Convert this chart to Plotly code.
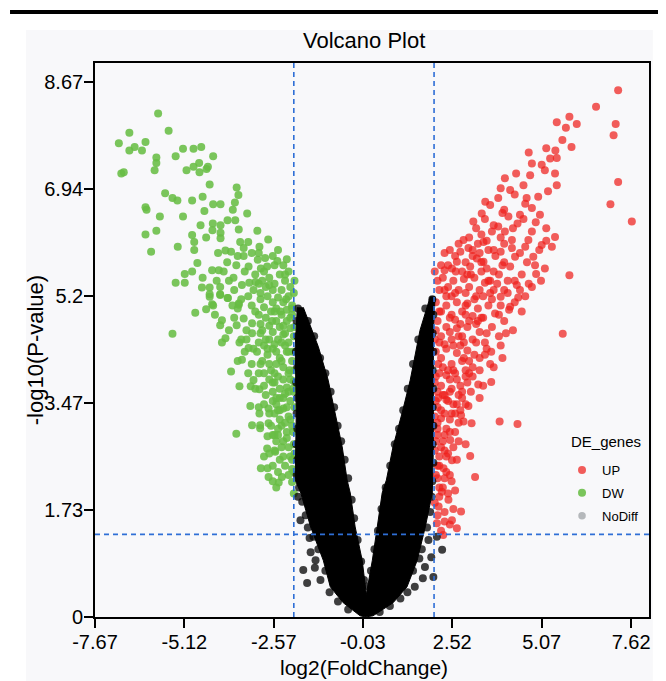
import plotly.graph_objects as go

# ---------------- data ----------------
x_tickvals = [-7.67, -5.12, -2.57, -0.03, 2.52, 5.07, 7.62]
x_ticktext = ["-7.67", "-5.12", "-2.57", "-0.03", "2.52", "5.07", "7.62"]
y_tickvals = [0, 1.73, 3.47, 5.2, 6.94, 8.67]
y_ticktext = ["0", "1.73", "3.47", "5.2", "6.94", "8.67"]

fc_cutoffs = [-2.0, 2.0]
p_cutoff = 1.34

# DW (down-regulated) genes
dw_x = [
    -5.87, -5.57, -6.69, -6.99, -6.23, -6.54, -6.69, -6.33, -5.92, -5.92, -5.97, -6.92, -6.85,
    -5.37, -5.16, -4.86, -4.64, -4.30, -4.86, -4.70, -5.06, -4.69, -4.49, -4.45, -4.40, -5.67,
    -5.46, -5.32, -4.90, -4.60, -4.30, -4.09, -3.63, -3.58, -3.68, -3.74, -3.33, -6.23, -6.20,
    -5.82, -5.16, -4.55, -4.31, -4.09, -4.66, -3.89, -3.67, -3.57, -3.04, -6.23, -5.92, -6.07,
    -5.31, -4.90, -4.84, -4.84, -4.75, -4.50, -4.09, -4.09, -4.32, -4.16, -3.95, -3.79, -3.53,
    -3.30, -3.43, -3.43, -2.98, -2.73, -3.64, -3.29, -3.03, -2.82, -2.94, -2.76, -2.47, -4.33,
    -4.14, -4.00, -5.11, -4.90, -5.37, -5.11, -4.62, -4.40, -4.10, -4.10, -3.88, -3.72, -3.48,
    -3.27, -3.09, -3.57, -4.33, -4.40,
    -5.46, -4.81, -4.50, -4.30, -4.40, -4.10, -3.89, -4.05, -4.10, -3.63, -3.55, -3.95, -4.05,
    -3.57, -3.60, -3.43, -3.19, -3.19, -3.29, -3.48, -3.79, -3.55, -3.23, -2.98, -3.15, -3.24,
    -3.00, -2.72, -2.98, -3.64, -3.19, -2.96, -2.96, -2.72, -2.75, -2.76, -2.53, -2.94, -2.75,
    -2.72, -2.43, -2.34, -2.05,
    -2.90, -2.70, -2.55, -2.40, -2.25, -2.10, -2.60, -2.35, -2.00, -2.80,
    -2.95, -2.75, -2.60, -2.45, -2.30, -2.15, -2.05, -2.50, -2.85, -2.20,
    -3.00, -2.80, -2.65, -2.50, -2.35, -2.20, -2.05, -2.70, -2.40, -2.10,
    -2.95, -2.80, -2.60, -2.45, -2.30, -2.15, -2.00, -2.55, -2.25, -2.85,
    -3.05, -2.75, -2.60, -2.40, -2.20, -2.05, -2.50, -2.30, -2.90, -2.12,
    -2.85, -2.65, -2.45, -2.30, -2.15, -2.00, -2.55, -2.70, -2.20,
    -2.80, -2.60, -2.40, -2.25, -2.10, -2.00, -2.50,
    -2.55, -2.40, -2.30, -2.15, -2.05, -2.45, -2.20,
    -2.50, -2.35, -2.20, -2.10, -2.00, -2.40, -2.25, -2.60,
    -2.15, -2.60, -2.50, -2.05, -2.00,
    -2.60, -2.30, -2.15, -3.20, -3.60, -3.90, -2.45, -3.10,
    -3.30, -3.15, -2.95, -3.70, -3.85, -3.20, -2.70, -2.25, -4.20, -4.60,
    -3.10, -2.95, -3.35, -3.70, -3.85, -2.55, -2.30, -2.10, -4.25,
    -3.15, -3.00, -2.70, -3.40, -3.60, -2.35, -2.15, -2.70,
    -3.00, -3.30, -2.55, -2.40, -2.85, -2.10, -2.30,
    -2.85, -2.60, -2.45, -2.20, -2.10, -2.65, -2.35, -2.50,
    -2.45, -2.30, -2.55, -2.15, -2.05, -2.85, -2.60,
    -1.98, -2.05, -1.98, -2.02, -1.98, -2.02, -1.98, -2.02, -1.98, -2.00,
    -2.22, -2.38, -2.62, -2.90, -2.25, -2.50, -2.75, -2.95, -2.35, -2.60,
    -2.15, -2.40, -2.70, -2.25, -2.55, -2.30, -2.70, -2.45, -3.35, -3.20,
    -3.10, -3.50, -3.00, -2.85, -3.40, -3.50, -3.75, -2.55, -2.20, -3.00,
]
dw_y = [
    8.16, 7.88, 7.85, 7.68, 7.70, 7.62, 7.56, 7.56, 7.45, 7.36, 7.24, 7.19, 7.21,
    7.47, 7.59, 7.59, 7.62, 7.47, 7.30, 7.36, 7.24, 7.21, 7.26, 7.30, 7.01, 6.87,
    6.79, 6.75, 6.75, 6.81, 6.69, 6.69, 6.96, 6.84, 6.72, 6.60, 6.54, 6.64, 6.60,
    6.49, 6.49, 6.58, 6.38, 6.35, 6.35, 6.43, 6.43, 6.28, 6.26, 6.20, 6.26, 5.92,
    6.00, 6.19, 6.08, 5.95, 5.74, 6.15, 6.23, 6.14, 6.27, 5.90, 5.94, 5.92, 6.08,
    6.08, 5.98, 5.85, 6.00, 6.12, 5.70, 5.68, 5.79, 5.82, 5.65, 5.68, 5.77, 5.62,
    5.62, 5.60, 5.56, 5.60, 5.42, 5.42, 5.34, 5.34, 5.35, 5.23, 5.17, 5.50, 5.38,
    5.42, 5.43, 5.08, 5.07, 5.23,
    4.59, 4.93, 4.99, 5.05, 5.19, 5.22, 5.17, 4.81, 4.73, 4.73, 4.45, 4.52, 4.45,
    5.06, 5.00, 4.84, 4.76, 4.60, 4.36, 4.17, 3.98, 3.74, 3.74, 3.69, 3.84, 3.42,
    3.40, 3.38, 3.30, 2.97, 3.11, 3.11, 3.06, 3.14, 2.93, 2.73, 2.68, 2.41, 2.41,
    2.27, 2.18, 2.27, 2.19,
    5.45, 5.50, 5.40, 5.55, 5.45, 5.35, 5.30, 5.30, 5.25, 5.35,
    5.15, 5.20, 5.10, 5.18, 5.10, 5.20, 5.05, 5.00, 5.02, 4.98,
    4.90, 4.85, 4.95, 4.80, 4.90, 4.80, 4.90, 4.72, 4.70, 4.68,
    4.60, 4.50, 4.62, 4.50, 4.58, 4.45, 4.55, 4.42, 4.40, 4.40,
    4.30, 4.25, 4.35, 4.20, 4.30, 4.15, 4.10, 4.05, 4.15, 4.00,
    3.95, 4.00, 3.90, 3.85, 3.95, 3.82, 3.80, 3.85, 3.72,
    3.60, 3.65, 3.55, 3.62, 3.50, 3.65, 3.45,
    3.30, 3.20, 3.38, 3.25, 3.10, 3.05, 3.00,
    2.85, 2.75, 2.90, 2.60, 2.80, 2.55, 2.45, 2.95,
    2.30, 2.20, 2.10, 2.40, 2.00,
    5.85, 5.70, 5.60, 5.90, 5.85, 5.75, 5.95, 5.55,
    5.20, 5.30, 5.25, 5.30, 5.45, 5.05, 5.38, 5.55, 5.45, 5.50,
    4.95, 4.75, 4.65, 4.85, 4.65, 4.95, 4.72, 4.85, 4.90,
    4.35, 4.45, 4.50, 4.30, 4.15, 4.45, 4.30, 4.10,
    3.95, 3.95, 3.95, 3.70, 3.75, 3.85, 3.55,
    3.45, 3.50, 3.35, 3.40, 3.20, 3.10, 3.10, 3.55,
    2.95, 2.60, 2.70, 2.75, 2.55, 2.60, 2.45,
    5.45, 5.00, 4.70, 4.30, 4.00, 3.70, 3.40, 3.00, 2.65, 2.35,
    5.15, 4.95, 4.80, 4.65, 4.60, 4.30, 4.35, 4.10, 4.15, 3.80,
    3.65, 3.35, 3.30, 3.15, 2.95, 2.85, 2.65, 2.35, 4.50, 4.10,
    3.70, 4.50, 5.40, 5.60, 5.60, 5.15, 5.05, 5.70, 5.80, 5.90,
]

# UP (up-regulated) genes
up_x = [
    7.25, 6.62, 5.86, 5.76, 5.50, 6.07, 7.18, 7.12, 5.66, 5.92, 7.25, 7.03, 7.64, 5.20, 5.46,
    4.70, 4.79, 5.07, 5.31, 5.50, 5.16, 5.45, 4.74, 4.34, 4.02, 4.17, 3.83, 3.46, 3.60, 4.64,
    4.97, 4.79, 5.02, 4.45, 4.38, 4.12, 3.36, 3.12, 3.83, 4.02, 3.65, 3.41, 4.79, 5.45, 4.69,
    5.07, 5.36, 4.22, 2.84, 2.98, 3.22, 3.41, 2.65, 2.51, 3.03, 4.22, 4.31, 4.17, 4.83, 4.88,
    5.16, 4.91, 5.86, 4.79, 4.36,
    5.67, 3.87, 4.38, 3.63, 3.63, 3.26, 2.98, 2.77, 3.07, 2.84, 3.03, 3.17, 2.77, 2.51, 2.65,
    2.46, 2.51, 2.27, 2.22, 2.41, 2.13, 2.08, 2.26, 4.40, 4.17, 4.14, 3.90, 3.74,
    2.30, 2.45, 2.60, 2.75, 3.10, 3.30, 3.55, 3.75, 3.90, 2.20, 2.80, 3.50, 3.70, 3.95,
    2.10, 2.25, 2.40, 2.55, 2.70, 2.85, 3.00, 3.15, 3.30, 3.45, 3.60, 3.80, 4.00, 3.20, 2.35,
    2.05, 2.20, 2.35, 2.50, 2.65, 2.80, 2.95, 3.10, 3.25, 3.40, 3.55, 2.10, 2.60, 3.00,
    2.05, 2.20, 2.35, 2.50, 2.65, 2.80, 2.95, 3.10, 3.30, 3.45, 2.30, 2.75, 3.20,
    2.05, 2.20, 2.35, 2.50, 2.65, 2.80, 2.95, 3.10, 3.30, 2.40, 2.90, 3.50,
    2.05, 2.20, 2.35, 2.50, 2.65, 2.80, 2.95, 3.10, 2.30, 2.70,
    2.05, 2.20, 2.35, 2.50, 2.65, 2.20, 2.45, 2.80,
    2.10, 2.30, 2.20, 2.40, 2.15, 2.60, 2.05,
    2.10, 2.30, 2.15, 2.05, 2.50,
    3.90, 4.30, 4.55, 4.00, 4.60, 5.25, 5.50,
    3.20, 3.45, 3.70, 3.95, 4.25, 4.55, 4.90, 5.20, 3.35, 3.90,
    2.70, 3.00, 3.25, 3.50, 3.70, 4.00, 4.45, 4.60, 5.00, 5.20, 3.10,
    2.40, 2.95, 3.35, 3.60, 3.85, 4.10, 4.50, 4.65, 5.05, 4.00,
    3.65, 3.90, 4.10, 4.30, 4.60, 4.50, 3.40, 2.90, 2.50,
    3.65, 3.85, 4.00, 4.25, 3.35, 2.45, 2.90, 2.15, 2.75,
    3.20, 3.45, 3.70, 3.90, 3.00, 2.15, 2.55, 2.85, 2.25,
    2.15, 2.45, 2.60, 2.90, 3.05, 3.30, 2.10, 2.40, 2.75,
    2.10, 2.30, 2.55, 2.70, 2.35, 2.60, 2.10,
    2.10, 2.25, 2.35, 2.55, 2.70, 2.15, 2.30,
    2.10, 2.25, 2.35, 2.60, 2.15, 2.45,
    2.10, 2.30, 2.45, 2.20, 2.55,
    2.02, 2.15, 2.30, 2.62, 2.90, 3.05, 3.35, 2.02, 2.12, 2.02, 2.12, 2.02, 2.25, 2.45,
    2.55, 2.70, 2.85, 3.00, 3.15, 3.25, 2.45, 2.30, 2.60, 2.90, 3.15, 3.50, 3.30, 3.40,
    2.90, 2.75, 2.45, 2.65, 2.90, 2.02, 2.40, 2.02, 2.30, 3.55, 3.70, 3.85, 4.05, 4.30,
    4.45, 4.70, 3.60, 3.95,
]
up_y = [
    8.54, 8.27, 8.11, 7.93, 8.02, 7.99, 7.99, 7.81, 7.73, 7.62, 7.05, 6.69, 6.41, 7.60, 7.56,
    7.53, 7.35, 7.33, 7.43, 7.44, 7.24, 7.19, 7.16, 7.19, 7.11, 6.92, 6.79, 6.73, 6.68, 6.79,
    6.81, 6.63, 6.52, 6.52, 6.38, 6.49, 6.54, 6.41, 6.33, 6.25, 6.25, 6.08, 6.25, 6.16, 6.11,
    6.03, 6.00, 6.11, 6.11, 5.98, 5.81, 5.76, 5.76, 5.65, 5.68, 5.98, 5.84, 5.68, 5.84, 5.70,
    5.65, 5.56, 5.54, 5.35, 5.38,
    4.59, 3.17, 3.13, 4.30, 3.81, 3.77, 3.42, 3.27, 3.14, 3.17, 2.61, 2.27, 1.71, 1.57, 1.44,
    2.87, 2.54, 2.41, 2.03, 1.90, 1.79, 1.52, 1.33, 5.18, 5.03, 4.98, 5.19, 4.92,
    5.90, 5.95, 5.85, 5.92, 5.95, 5.90, 5.95, 5.85, 5.92, 5.70, 5.60, 5.65, 5.60, 5.70,
    5.45, 5.50, 5.35, 5.45, 5.30, 5.48, 5.35, 5.50, 5.30, 5.42, 5.25, 5.40, 5.30, 5.20, 5.20,
    5.10, 4.95, 5.05, 4.90, 5.10, 4.95, 5.08, 4.88, 5.00, 4.85, 5.05, 4.80, 4.82, 4.80,
    4.65, 4.55, 4.70, 4.50, 4.68, 4.55, 4.70, 4.50, 4.62, 4.45, 4.42, 4.40, 4.75,
    4.30, 4.20, 4.35, 4.10, 4.28, 4.15, 4.32, 4.05, 4.20, 4.00, 4.00, 4.35,
    3.90, 3.75, 3.92, 3.70, 3.85, 3.65, 3.80, 3.90, 3.60, 3.60,
    3.50, 3.35, 3.52, 3.30, 3.45, 3.22, 3.20, 3.55,
    3.05, 2.95, 2.75, 2.65, 2.60, 3.00, 2.85,
    2.45, 2.25, 2.10, 2.30, 2.20,
    6.95, 6.85, 7.00, 6.60, 6.70, 6.90, 7.00,
    6.30, 6.45, 6.35, 6.55, 6.30, 6.45, 6.40, 6.30, 6.20, 6.15,
    6.05, 6.15, 6.05, 6.10, 5.95, 6.05, 5.90, 6.00, 5.95, 6.10, 5.85,
    5.70, 5.55, 5.60, 5.45, 5.55, 5.45, 5.55, 5.75, 5.45, 5.75,
    5.15, 5.05, 5.25, 5.10, 5.20, 4.95, 5.20, 5.25, 5.20,
    4.70, 4.55, 4.80, 4.65, 4.85, 4.62, 4.90, 4.95, 4.75,
    4.45, 4.25, 4.05, 4.40, 4.15, 4.45, 4.40, 4.45, 4.05,
    3.95, 3.85, 3.95, 3.90, 3.65, 3.55, 3.65, 3.50, 3.75,
    3.40, 3.30, 3.45, 3.15, 3.05, 3.30, 3.15,
    2.95, 2.85, 2.60, 2.75, 2.85, 2.45, 2.70,
    2.25, 2.10, 2.35, 2.05, 1.95, 2.30,
    1.65, 1.70, 1.50, 1.40, 1.75,
    5.60, 5.30, 5.62, 5.60, 5.75, 5.55, 5.75, 4.50, 4.10, 3.80, 3.55, 3.25, 3.60, 3.65,
    4.00, 4.55, 4.20, 3.95, 4.25, 4.80, 4.85, 5.30, 5.25, 5.05, 5.15, 4.60, 4.00, 3.75,
    3.45, 3.35, 3.00, 2.55, 2.80, 2.70, 2.00, 1.85, 1.55, 5.45, 5.30, 4.90, 4.60, 5.45,
    5.30, 5.40, 4.10, 4.20,
]

# NoDiff genes: outline of the densely packed (solid) core
nodiff_core_x = [
    -1.90, -1.96, -1.93, -1.96, -1.80, -1.52, -1.16, -0.96, -0.59, -0.11, 0.04,
    0.26, 0.83, 1.23, 1.52, 1.75, 1.95, 1.98, 1.98, 1.98, 2.03, 1.89,
    1.60, 1.32, 1.09, 0.83, 0.64, 0.52, 0.38, 0.24, 0.09, 0.08,
    0.07, -0.05, -0.25, -0.39, -0.48, -0.62, -0.82, -1.02, -1.30, -1.73,
]
nodiff_core_y = [
    5.02, 4.38, 3.31, 2.22, 2.01, 1.46, 0.92, 0.49, 0.23, 0.02, 0.00,
    0.02, 0.23, 0.49, 0.92, 1.46, 2.01, 2.76, 3.84, 4.65, 5.19, 5.19,
    4.65, 3.84, 3.31, 2.76, 2.22, 2.01, 1.46, 0.92, 0.44, 0.36,
    0.36, 0.92, 1.46, 2.01, 2.22, 2.76, 3.31, 3.84, 4.38, 5.02,
]
# NoDiff genes visible individually along the edges of the core
nodiff_x = [
    -1.88, -1.92, -1.90, -1.94, -1.90, -1.93, -1.90, -1.92, -1.90, -1.93, -1.90, -1.92, -1.85,
    -1.76, -1.66, -1.81, -1.55, -1.52, -1.38, -1.73, -1.24, -1.10, -0.98, -0.74, -0.45, -1.30,
    -1.44, -1.60, -1.88, -1.62, -1.40, -0.88,
    -1.60, -1.42, -1.25, -1.10, -0.95, -0.85, -0.75, -0.65, -0.55, -0.45, -0.35, -0.28, -0.18,
    -0.08, 0.00,
    1.95, 1.98, 1.96, 1.98, 1.96, 1.98, 1.96, 1.98, 1.96, 1.98, 1.95, 1.93, 1.89, 1.80, 1.84,
    1.92, 1.74, 1.98, 1.68, 2.23, 1.45, 1.24, 1.04, 0.74, 0.45, 1.65, 1.40, 2.08, 1.58,
    1.75, 1.55, 1.40, 1.25, 1.12, 1.00, 0.88, 0.75, 0.62, 0.50, 0.40, 0.30, 0.20, 0.12,
]
nodiff_y = [
    5.00, 4.80, 4.55, 4.30, 4.05, 3.80, 3.55, 3.30, 3.05, 2.80, 2.55, 2.30, 2.10,
    1.87, 1.65, 1.57, 1.28, 1.05, 0.92, 0.76, 0.60, 0.75, 0.40, 0.25, 0.12, 1.10,
    1.30, 1.45, 1.95, 0.55, 0.80, 0.55,
    4.80, 4.55, 4.20, 3.95, 3.65, 3.40, 3.10, 2.85, 2.55, 2.25, 1.90, 1.60, 1.25,
    0.90, 0.60,
    5.15, 4.90, 4.60, 4.30, 4.00, 3.70, 3.40, 3.10, 2.80, 2.50, 2.20, 1.95, 1.70, 1.45, 1.25,
    0.97, 0.81, 0.65, 0.63, 1.09, 0.49, 0.40, 0.30, 0.18, 0.08, 1.10, 0.75, 1.30, 0.95,
    5.00, 4.50, 4.10, 3.70, 3.35, 3.05, 2.80, 2.45, 2.10, 1.75, 1.40, 1.10, 0.75, 0.50,
]

x_range = [-7.67, 8.13]
y_range = [0, 8.98]

# ---------------- styling ----------------
FONT = "Liberation Sans, Arial, Helvetica, sans-serif"
RED = "rgba(238,32,28,0.72)"
GREEN = "rgba(104,189,68,0.88)"
BLACK = "rgba(0,0,0,0.75)"
MS = 8

fig = go.Figure()

fig.add_trace(go.Scatter(
    x=up_x, y=up_y, mode="markers", name="UP", legendgroup="up",
    marker=dict(color=RED, size=MS, line=dict(width=0)),
))
fig.add_trace(go.Scatter(
    x=dw_x, y=dw_y, mode="markers", name="DW", legendgroup="dw",
    marker=dict(color=GREEN, size=MS, line=dict(width=0)),
))
fig.add_trace(go.Scatter(
    x=nodiff_core_x, y=nodiff_core_y, mode="lines", fill="toself",
    fillcolor="black", line=dict(color="black", width=1),
    showlegend=False, hoverinfo="skip",
))
fig.add_trace(go.Scatter(
    x=nodiff_x, y=nodiff_y, mode="markers", name="NoDiff", legendgroup="nd",
    marker=dict(color=BLACK, size=MS, line=dict(width=0)), showlegend=False,
))
# legend swatch for NoDiff (grey in the reference legend)
fig.add_trace(go.Scatter(
    x=[None], y=[None], mode="markers", name="NoDiff", legendgroup="nd",
    marker=dict(color="#b5b8bb", size=7.5, line=dict(width=0)),
))

shapes = []
# faint panel behind the figure
shapes.append(dict(type="rect", xref="paper", yref="paper",
                   x0=-0.1245, x1=1.007, y0=-0.116, y1=1.0596,
                   fillcolor="#f8f8fa", line=dict(width=0), layer="below"))
# black rule at the top of the page
shapes.append(dict(type="rect", xref="paper", yref="paper",
                   x0=-0.1534, x1=1.031, y0=1.0884, y1=1.0957,
                   fillcolor="black", line=dict(width=0), layer="above"))
for fc in fc_cutoffs:
    shapes.append(dict(type="line", xref="x", yref="paper", x0=fc, x1=fc, y0=0, y1=1,
                       line=dict(color="#2f6fd6", width=1.6, dash="5px,4px"), layer="above"))
shapes.append(dict(type="line", xref="paper", yref="y", x0=0, x1=1, y0=p_cutoff, y1=p_cutoff,
                   line=dict(color="#2f6fd6", width=1.6, dash="5px,4px"), layer="above"))

annotations = [
    dict(text="Volcano Plot", xref="paper", yref="paper", x=0.4856, y=1.0415,
         xanchor="center", yanchor="middle", showarrow=False,
         font=dict(family=FONT, size=22, color="black")),
    dict(text="log2(FoldChange)", xref="paper", yref="paper", x=0.486, y=-0.092,
         xanchor="center", yanchor="middle", showarrow=False,
         font=dict(family=FONT, size=21, color="black")),
    dict(text="-log10(P-value)", xref="paper", yref="paper", x=-0.106, y=0.482,
         xanchor="center", yanchor="middle", showarrow=False, textangle=-90,
         font=dict(family=FONT, size=22, color="black")),
    # legend title
    dict(text="DE_genes", xref="paper", yref="paper", x=0.855, y=0.316,
         xanchor="left", yanchor="middle", showarrow=False,
         font=dict(family=FONT, size=15, color="black")),
]

axis_common = dict(
    showgrid=False, zeroline=False, showline=True, linecolor="black", linewidth=1.6,
    mirror=True, ticks="outside", ticklen=9, tickwidth=1.5, tickcolor="black",
    tickfont=dict(family=FONT, size=20, color="black"), ticklabelstandoff=-3,
)

# the page adds an 8 px body margin, so the figure is 8 px smaller than the window
fig.update_layout(
    width=658, height=673, autosize=False,
    margin=dict(l=87, r=17, t=55, b=64),
    paper_bgcolor="white", plot_bgcolor="white",
    xaxis=dict(range=x_range, tickvals=x_tickvals, ticktext=x_ticktext, **axis_common),
    yaxis=dict(range=y_range, tickvals=y_tickvals, ticktext=y_ticktext, **axis_common),
    shapes=shapes, annotations=annotations,
    showlegend=True,
    legend=dict(
        font=dict(family=FONT, size=13, color="black"),
        x=0.843, y=0.2925, xanchor="left", yanchor="top",
        bgcolor="rgba(0,0,0,0)", borderwidth=0, tracegroupgap=3,
        itemsizing="trace",
    ),
)

fig.write_html("out.html")
